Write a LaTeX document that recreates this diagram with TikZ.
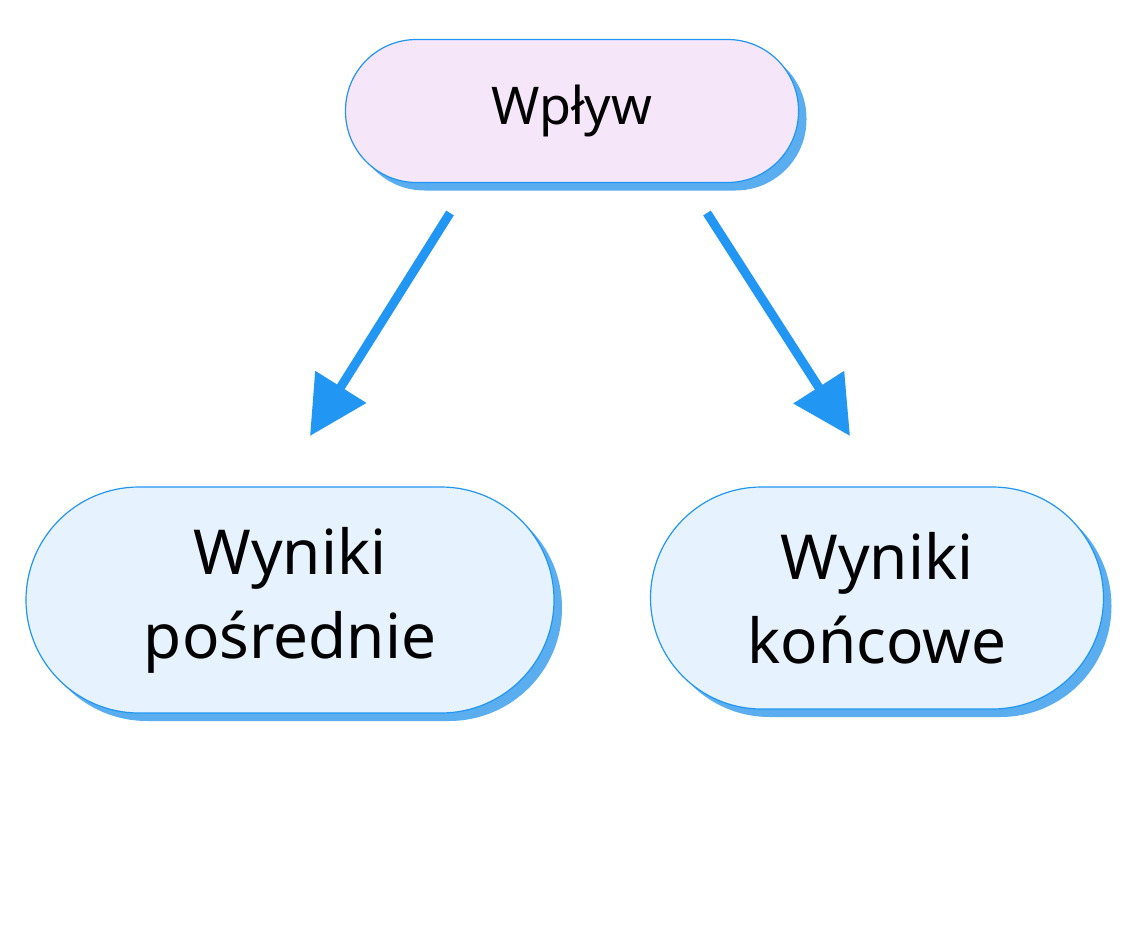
\documentclass[tikz,border=0pt]{standalone}
\usepackage{fontspec}
\setmainfont{Noto Sans}
\usetikzlibrary{shadows,arrows.meta}
\definecolor{bl}{HTML}{2196F3}
\definecolor{pinkf}{HTML}{F5E6FA}
\definecolor{bluef}{HTML}{E6F2FD}
\definecolor{shd}{HTML}{5AAEF0}
\begin{document}
\begin{tikzpicture}[x=1pt,y=-1pt,
  box/.style={draw=bl,line width=1.2pt,inner sep=0pt,align=center,
    drop shadow={shadow xshift=8pt,shadow yshift=-8pt,fill=shd,opacity=1}},
  arr/.style={draw=bl,line width=9pt,-{Triangle[length=58pt,width=58pt]}}]
\useasboundingbox (0,0) rectangle (1147,928);
\fill[white] (0,0) rectangle (1147,928);
\node[box,fill=pinkf,minimum width=453pt,minimum height=143pt,rounded corners=71pt,font=\fontsize{52}{60}\selectfont] (top) at (572,111) {Wpływ};
\node[box,fill=bluef,minimum width=528pt,minimum height=226pt,rounded corners=113pt,font=\fontsize{62}{84}\selectfont] (left) at (290,600) {Wyniki\\pośrednie};
\node[box,fill=bluef,minimum width=453pt,minimum height=222pt,rounded corners=111pt,font=\fontsize{62}{84}\selectfont] (right) at (877,598) {Wyniki\\końcowe};
\coordinate (a1s) at (450,213); \coordinate (a1e) at (310,436);
\coordinate (a2s) at (707,213); \coordinate (a2e) at (850,436);
\draw[arr] (a1s) -- (a1e);
\draw[arr] (a2s) -- (a2e);
\end{tikzpicture}
\end{document}
